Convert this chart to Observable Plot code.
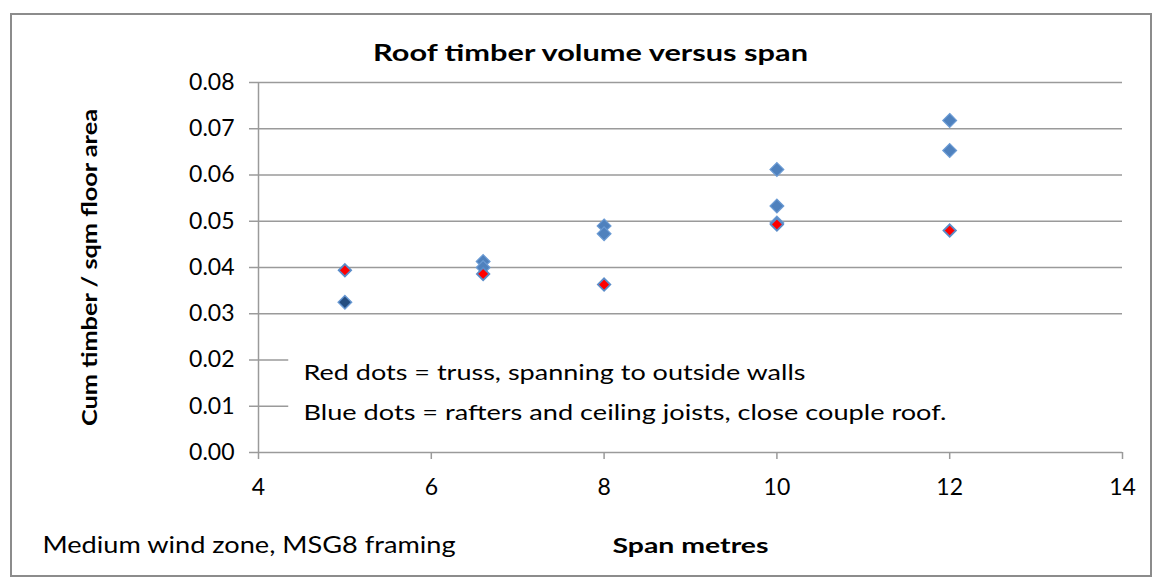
<!DOCTYPE html>
<html>
<head>
<meta charset="utf-8">
<script src="https://cdn.jsdelivr.net/npm/d3@7"></script>
<script src="https://cdn.jsdelivr.net/npm/@observablehq/plot@0.6"></script>
<style>
  html, body { margin: 0; padding: 0; background: #fff; }
  #wrap { position: relative; width: 1162px; height: 586px; }
  #border { position: absolute; left: 10px; top: 13px; width: 1138px; height: 560px; border: 2px solid #8c8c8c; pointer-events: none; }
  svg { display: block; }
</style>
</head>
<body>
<div id="wrap"><div id="border"></div></div>
<script>
// Data
const redSpans = [5, 6.6, 8, 10, 12];
const redVolumes = [0.0394, 0.0386, 0.0363, 0.0493, 0.0480];
const blueSpans = [5, 6.6, 6.6, 8, 8, 10, 10, 10, 12, 12];
const blueVolumes = [0.0325, 0.0413, 0.0400, 0.0490, 0.0473, 0.0612, 0.0533, 0.0496, 0.0718, 0.0653];
const darkSpans = [5];
const darkVolumes = [0.0325];
const spanTicks = [4, 6, 8, 10, 12, 14];
const volumeTicks = [0, 0.01, 0.02, 0.03, 0.04, 0.05, 0.06, 0.07, 0.08];
const titleText = ["Roof timber volume versus span"];
const yLabel = ["Cum timber / sqm floor area"];
const xLabel = ["Span metres"];
const captionText = ["Medium wind zone, MSG8 framing"];
const noteLines = ["Red dots = truss, spanning to outside walls", "Blue dots = rafters and ceiling joists, close couple roof."];

const toRows = (xs, ys) => xs.map((s, i) => ({span: s, volume: ys[i]}));
const red = toRows(redSpans, redVolumes);
const blue = toRows(blueSpans, blueVolumes);
const dark = toRows(darkSpans, darkVolumes);

const FONT = "Lato, 'Open Sans', sans-serif";
const grid = "#9a9a9a";

const chart = Plot.plot({
  width: 1162,
  height: 586,
  marginLeft: 258,
  marginRight: 40,
  marginTop: 82,
  marginBottom: 134,
  style: {fontFamily: FONT, background: "transparent", color: "black"},
  x: {domain: [4, 14]},
  y: {domain: [0, 0.08]},
  marks: [
    Plot.gridY(volumeTicks, {stroke: grid, strokeOpacity: 1, strokeWidth: 1.5}),
    Plot.ruleX([4], {stroke: grid, strokeWidth: 1.5}),
    Plot.axisY(volumeTicks, {tickSize: 9, tickPadding: 15, tickFormat: d3.format(".2f"), fontSize: 23, stroke: grid, strokeWidth: 1.5, fill: "black", label: null}),
    Plot.axisX(spanTicks, {tickSize: 7, tickPadding: 19, fontSize: 23, stroke: grid, strokeWidth: 1.5, fill: "black", label: null}),
    Plot.rect([0], {x1: 4.35, x2: 14, y1: 0.0056, y2: 0.0215, fill: "white"}),
    Plot.text([noteLines[0]], {frameAnchor: "top-left", textAnchor: "start", lineAnchor: "middle", dx: 45, dy: 290, fontSize: 22, fill: "black"}),
    Plot.text([noteLines[1]], {frameAnchor: "top-left", textAnchor: "start", lineAnchor: "middle", dx: 45, dy: 330, fontSize: 22, fill: "black"}),
    Plot.dot(blue, {x: "span", y: "volume", symbol: "diamond2", r: 6.2, fill: "#4F81BD", stroke: "#6b9bd4", strokeWidth: 1.2}),
    Plot.dot(dark, {x: "span", y: "volume", symbol: "diamond2", r: 5.0, fill: "#244d80", stroke: "none"}),
    Plot.dot(red, {x: "span", y: "volume", symbol: "diamond2", r: 5.6, fill: "#FF0000", stroke: "#5a8cc8", strokeWidth: 1.8}),
    Plot.text(titleText, {frameAnchor: "top-left", textAnchor: "middle", lineAnchor: "middle", dx: 332, dy: -29, fontSize: 23, fontWeight: "bold", fill: "black"}),
    Plot.text(yLabel, {frameAnchor: "left", textAnchor: "middle", lineAnchor: "middle", dx: -168, rotate: -90, fontSize: 20, fontWeight: "bold", fill: "black"}),
    Plot.text(xLabel, {frameAnchor: "bottom", textAnchor: "middle", lineAnchor: "middle", dy: 94, fontSize: 21, fontWeight: "bold", fill: "black"}),
    Plot.text(captionText, {frameAnchor: "bottom-left", textAnchor: "start", lineAnchor: "middle", dx: -216, dy: 93, fontSize: 23, fill: "black"})
  ]
});
// Stretch texts horizontally like the original (stretched) chart image
const stretch = new Map([
  [titleText[0], 435],
  [noteLines[0], 502],
  [noteLines[1], 643],
  [captionText[0], 413],
  [xLabel[0], 156],
  [yLabel[0], 317]
]);
d3.select(chart).selectAll("text").each(function() {
  const w = stretch.get(this.textContent);
  if (w) {
    this.setAttribute("textLength", w);
    this.setAttribute("lengthAdjust", "spacingAndGlyphs");
  }
});
chart.style.position = "absolute";
chart.style.left = "0";
chart.style.top = "0";
document.getElementById("wrap").prepend(chart);
</script>
</body>
</html>
